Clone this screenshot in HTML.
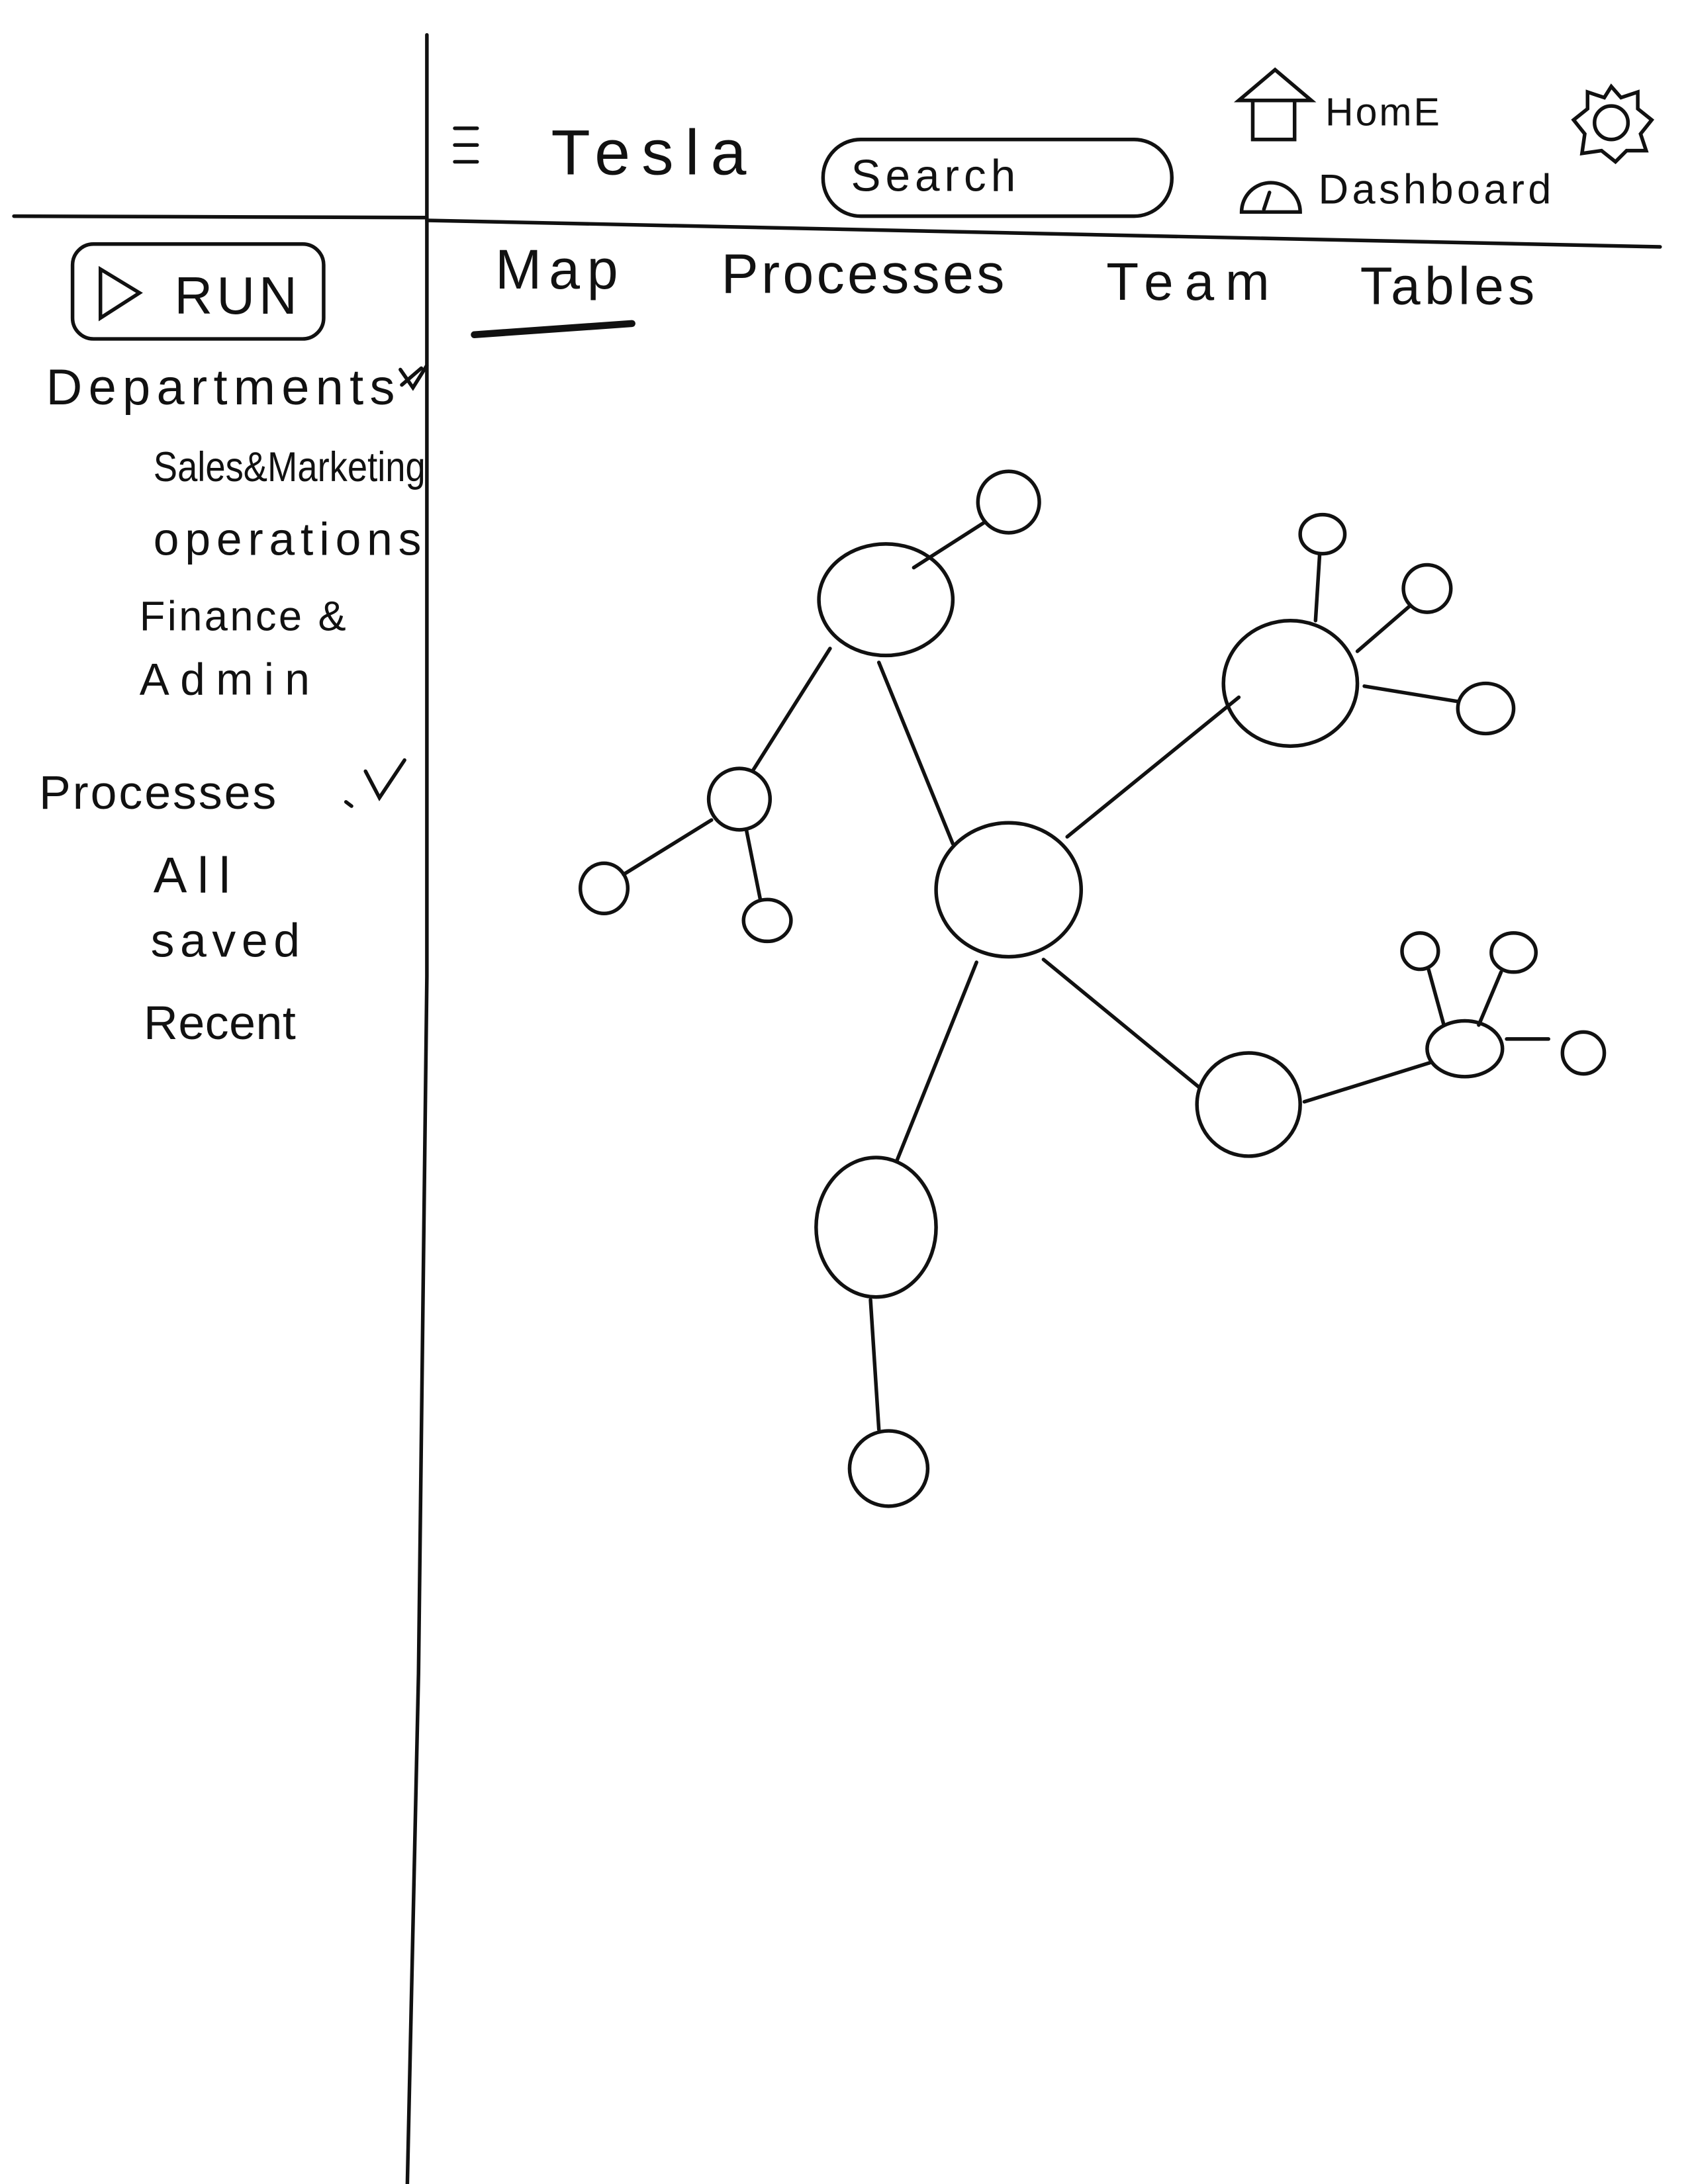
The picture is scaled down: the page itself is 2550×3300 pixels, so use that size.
<!DOCTYPE html>
<html><head><meta charset="utf-8"><style>
html,body{margin:0;padding:0;background:#fff;}
svg{display:block;}
text{font-family:"Liberation Sans",sans-serif;fill:#111;}
</style></head><body>
<svg width="2550" height="3300" viewBox="0 0 1210 1566" preserveAspectRatio="none" xmlns="http://www.w3.org/2000/svg">
<g stroke="#111" stroke-width="2.6" fill="none" stroke-linecap="round">
<path d="M306 25 L306 700 L300 1200 L292 1566"/>
<path d="M10 155 L306 156"/>
<path d="M306 158 L1190 177"/>
<path d="M326 92 H342 M326 104 H342 M326 116 H342"/>
<rect x="590" y="100" width="250" height="55" rx="27"/>
<path d="M888 72 L914 50 L940 72 Z M898 72 V100 H928 V72"/>
<path d="M890 152 A20 20 0 0 1 932 152 Z M906 150 L910 138"/>
<circle cx="1155" cy="88" r="12"/>
<path d="M1155 62 L1162 70 L1174 66 L1174 78 L1184 86 L1176 96 L1180 108 L1166 108 L1158 116 L1148 108 L1134 110 L1136 96 L1128 86 L1138 78 L1138 66 L1150 70 Z"/>
<rect x="52" y="175" width="180" height="68" rx="15"/>
<path d="M72 193 L72 228 L100 210 Z"/>
<path d="M340 240 L453 232" stroke-width="5"/>
<path d="M248 575 L252 578 M262 553 L272 572 L290 545"/>
<path d="M287 265 L296 278 L306 262 M288 276 L302 264"/>
<path d="M655 407 L705 375 M595 465 L540 552 M630 475 L683 605 M510 588 L447 627 M535 595 L545 645 M765 600 L888 500 M943 445 L946 397 M973 467 L1010 435 M978 492 L1045 503 M748 688 L860 780 M935 790 L1025 762 M1035 735 L1024 695 M1060 735 L1076 697 M1080 745 L1110 745 M700 690 L643 832 M624 932 L630 1025"/>
<ellipse cx="723" cy="638" rx="52" ry="48"/>
<ellipse cx="635" cy="430" rx="48" ry="40"/>
<ellipse cx="723" cy="360" rx="22" ry="22"/>
<ellipse cx="530" cy="573" rx="22" ry="22"/>
<ellipse cx="433" cy="637" rx="17" ry="18"/>
<ellipse cx="550" cy="660" rx="17" ry="15"/>
<ellipse cx="925" cy="490" rx="48" ry="45"/>
<ellipse cx="948" cy="383" rx="16" ry="14"/>
<ellipse cx="1023" cy="422" rx="17" ry="17"/>
<ellipse cx="1065" cy="508" rx="20" ry="18"/>
<ellipse cx="895" cy="792" rx="37" ry="37"/>
<ellipse cx="1050" cy="752" rx="27" ry="20"/>
<ellipse cx="1018" cy="682" rx="13" ry="13"/>
<ellipse cx="1085" cy="683" rx="16" ry="14"/>
<ellipse cx="1135" cy="755" rx="15" ry="15"/>
<ellipse cx="628" cy="880" rx="43" ry="50"/>
<ellipse cx="637" cy="1053" rx="28" ry="27"/>
</g>
<text x="395" y="125" font-size="46" textLength="140" lengthAdjust="spacing">Tesla</text>
<text x="610" y="137" font-size="32" textLength="118">Search</text>
<text x="950" y="90" font-size="28" textLength="82">HomE</text>
<text x="945" y="146" font-size="30" textLength="167">Dashboard</text>
<text x="125" y="225" font-size="38" textLength="88">RUN</text>
<text x="355" y="207" font-size="40" textLength="88">Map</text>
<text x="517" y="210" font-size="40" textLength="203">Processes</text>
<text x="793" y="215" font-size="38" textLength="117">Team</text>
<text x="975" y="218" font-size="38" textLength="125">Tables</text>
<text x="33" y="290" font-size="36" textLength="250">Departments</text>
<text x="110" y="345" font-size="30" textLength="195" lengthAdjust="spacingAndGlyphs">Sales&amp;Marketing</text>
<text x="110" y="398" font-size="33" textLength="192">operations</text>
<text x="100" y="452" font-size="30" textLength="148">Finance &amp;</text>
<text x="100" y="498" font-size="32" textLength="122">Admin</text>
<text x="28" y="580" font-size="34" textLength="170">Processes</text>
<text x="110" y="640" font-size="36" textLength="55">All</text>
<text x="108" y="686" font-size="34" textLength="107">saved</text>
<text x="103" y="745" font-size="34" textLength="109">Recent</text>
</svg>
</body></html>
